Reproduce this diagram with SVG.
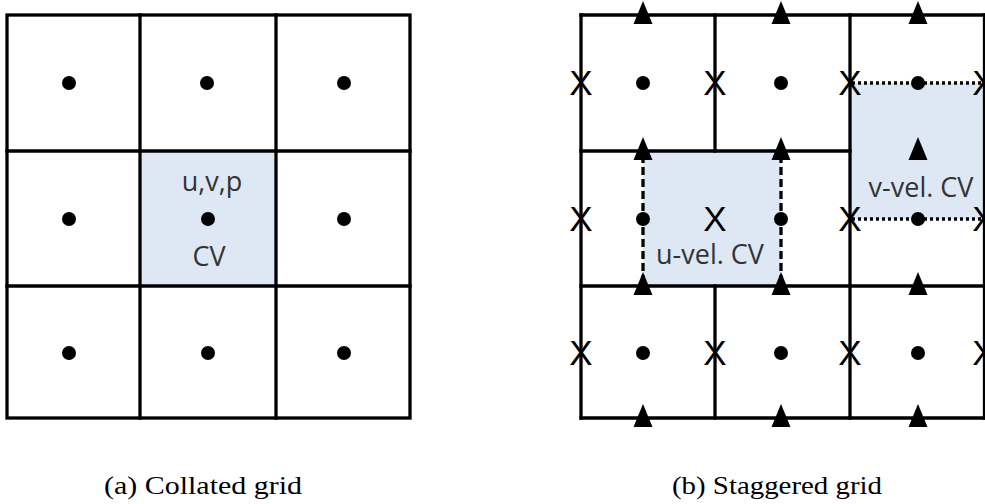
<svg xmlns="http://www.w3.org/2000/svg" width="985" height="504" viewBox="0 0 985 504">
<style>
.bg{fill:#ffffff}
.cv{fill:#dde8f4;stroke:none}
.ln{stroke:#000;stroke-width:3.3;fill:none;stroke-linecap:square}
.dash{stroke:#000;stroke-width:3.3;fill:none;stroke-dasharray:8 4}
.dot2{stroke:#000;stroke-width:3.3;fill:none;stroke-dasharray:3 3}
.lbl{font-family:"Open Sans","Liberation Sans",sans-serif;font-size:27px;fill:#333;text-anchor:middle}
.xm{font-family:"Liberation Sans",sans-serif;font-size:35px;fill:#000;text-anchor:middle}
.cap{font-family:"Liberation Serif",serif;font-size:25px;fill:#000}
</style>
<defs>
<circle id="pt" r="7" fill="#000"/>
<path id="tri" d="M0,-14 L9.5,9 L-9.5,9 Z" fill="#000"/>
</defs>
<rect class="bg" x="0" y="0" width="985" height="504"/>

<g id="collated-grid">
  <rect class="cv" x="140" y="151" width="136" height="135"/>
  <g id="collated-lines">
    <rect class="ln" x="7" y="15" width="403" height="403"/>
    <line class="ln" x1="140" y1="15" x2="140" y2="418"/>
    <line class="ln" x1="276" y1="15" x2="276" y2="418"/>
    <line class="ln" x1="7" y1="151" x2="410" y2="151"/>
    <line class="ln" x1="7" y1="286" x2="410" y2="286"/>
  </g>
  <g id="collated-points">
    <use href="#pt" x="69" y="83"/><use href="#pt" x="207" y="83"/><use href="#pt" x="344" y="83"/>
    <use href="#pt" x="69" y="219"/><use href="#pt" x="208" y="219"/><use href="#pt" x="344" y="219"/>
    <use href="#pt" x="69" y="353"/><use href="#pt" x="208" y="353"/><use href="#pt" x="344" y="353"/>
  </g>
  <text class="lbl" x="212" y="191">u,v,p</text>
  <text class="lbl" x="209" y="266">CV</text>
</g>

<g id="staggered-grid">
  <rect class="cv" x="643" y="151" width="138" height="135"/>
  <rect class="cv" x="850" y="83" width="135" height="136"/>
  <g id="staggered-lines">
    <line class="ln" x1="581" y1="15" x2="984" y2="15"/>
    <line class="ln" x1="581" y1="418" x2="984" y2="418"/>
    <line class="ln" x1="581" y1="151" x2="850" y2="151"/>
    <line class="ln" x1="581" y1="286" x2="984" y2="286"/>
    <line class="ln" x1="581" y1="15" x2="581" y2="418"/>
    <line class="ln" x1="715" y1="15" x2="715" y2="151"/>
    <line class="ln" x1="715" y1="286" x2="715" y2="418"/>
    <line class="ln" x1="850" y1="15" x2="850" y2="418"/>
    <line class="ln" x1="984.5" y1="15" x2="984.5" y2="418"/>
    <line class="dash" x1="643" y1="155" x2="643" y2="286"/>
    <line class="dash" x1="781" y1="155" x2="781" y2="286"/>
    <line class="dot2" x1="852" y1="83" x2="985" y2="83"/>
    <line class="dot2" x1="852" y1="219" x2="985" y2="219"/>
  </g>
  <g id="staggered-points">
    <use href="#pt" x="643" y="83"/><use href="#pt" x="781" y="83"/><use href="#pt" x="918" y="83"/>
    <use href="#pt" x="643" y="219"/><use href="#pt" x="781" y="219"/><use href="#pt" x="918" y="219"/>
    <use href="#pt" x="643" y="353"/><use href="#pt" x="781" y="353"/><use href="#pt" x="918" y="353"/>
  </g>
  <g id="v-velocity">
    <use href="#tri" x="643" y="15"/><use href="#tri" x="781" y="15"/><use href="#tri" x="918" y="15"/>
    <use href="#tri" x="643" y="151"/><use href="#tri" x="781" y="151"/><use href="#tri" x="918" y="151"/>
    <use href="#tri" x="643" y="286"/><use href="#tri" x="781" y="286"/><use href="#tri" x="918" y="286"/>
    <use href="#tri" x="643" y="418"/><use href="#tri" x="781" y="418"/><use href="#tri" x="918" y="418"/>
  </g>
  <g id="u-velocity">
    <text class="xm" x="581" y="95">X</text><text class="xm" x="715" y="95">X</text><text class="xm" x="850" y="95">X</text><text class="xm" x="984" y="95">X</text>
    <text class="xm" x="581" y="231">X</text><text class="xm" x="715" y="231">X</text><text class="xm" x="850" y="231">X</text><text class="xm" x="984" y="231">X</text>
    <text class="xm" x="581" y="365">X</text><text class="xm" x="715" y="365">X</text><text class="xm" x="850" y="365">X</text><text class="xm" x="984" y="365">X</text>
  </g>
  <text class="lbl" x="710" y="264">u-vel. CV</text>
  <text class="lbl" x="921" y="197">v-vel. CV</text>
</g>

<g id="captions">
  <text class="cap" x="104" y="494" textLength="198" lengthAdjust="spacingAndGlyphs">(a) Collated grid</text>
  <text class="cap" x="672" y="494" textLength="210" lengthAdjust="spacingAndGlyphs">(b) Staggered grid</text>
</g>
</svg>
